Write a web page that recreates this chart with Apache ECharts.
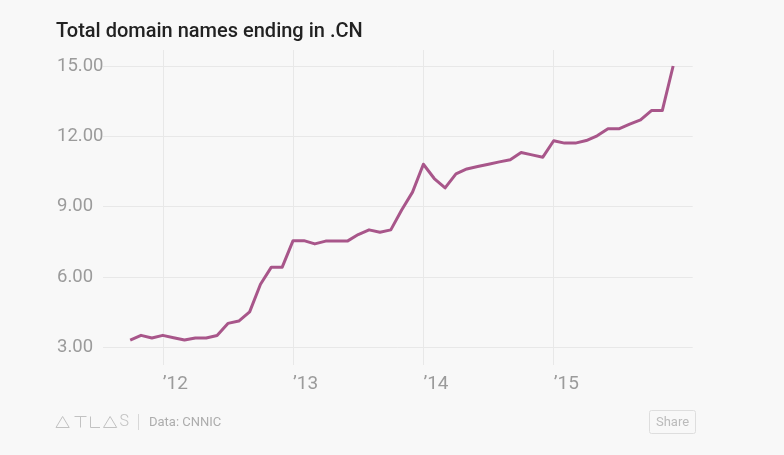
<!DOCTYPE html>
<html><head><meta charset="utf-8">
<script src="https://cdn.jsdelivr.net/npm/echarts@6/dist/echarts.min.js"></script>
<style>html,body{margin:0;padding:0;background:#f8f8f8}#c{width:784px;height:455px}</style>
</head><body><div id="c"></div>
<script>
// ---- data ----
const chartTitle = 'Total domain names ending in .CN';
const sourceText = 'Data: CNNIC';
const months = [
  '2011-10','2011-11','2011-12',
  '2012-01','2012-02','2012-03','2012-04','2012-05','2012-06','2012-07','2012-08','2012-09','2012-10','2012-11','2012-12',
  '2013-01','2013-02','2013-03','2013-04','2013-05','2013-06','2013-07','2013-08','2013-09','2013-10','2013-11','2013-12',
  '2014-01','2014-02','2014-03','2014-04','2014-05','2014-06','2014-07','2014-08','2014-09','2014-10','2014-11','2014-12',
  '2015-01','2015-02','2015-03','2015-04','2015-05','2015-06','2015-07','2015-08','2015-09','2015-10','2015-11','2015-12'
];
const values = [
  3.31, 3.51, 3.40,
  3.51, 3.41, 3.31, 3.40, 3.40, 3.50, 4.02, 4.12, 4.51, 5.69, 6.42, 6.42,
  7.55, 7.55, 7.41, 7.53, 7.53, 7.53, 7.81, 8.01, 7.91, 8.01, 8.86, 9.62,
  10.81, 10.20, 9.80, 10.40, 10.61, 10.71, 10.81, 10.91, 11.00, 11.31, 11.21, 11.11,
  11.81, 11.71, 11.71, 11.82, 12.02, 12.32, 12.32, 12.52, 12.70, 13.10, 13.10, 15.00
];
const padBefore = ['2011-07','2011-08','2011-09'];
const padAfter = ['2016-01'];
const yearTicks = ['2012-01','2013-01','2014-01','2015-01'];
const yMin = 3, yMax = 15, yStep = 3;

// ---- layout ----
const axisMonths = [...padBefore, ...months, ...padAfter];
const FONT = 'Roboto, "Liberation Sans", sans-serif';
const plotTop = 66, plotBottom = 347.3;
const pxPerUnit = (plotBottom - plotTop) / (yMax - yMin);
const outerTop = 50, outerBottom = 365;
const outerMin = yMin - (outerBottom - plotBottom) / pxPerUnit;
const outerMax = yMax + (plotTop - outerTop) / pxPerUnit;
const isYear = (i, v) => yearTicks.indexOf(v) >= 0;

const chart = echarts.init(document.getElementById('c'), null, {renderer: 'canvas'});
chart.setOption({
  backgroundColor: '#f8f8f8',
  animation: false,
  grid: [
    {left: 97.6, width: 586.4, top: outerTop, height: outerBottom - outerTop},
    {left: 103, width: 589.7, top: plotTop, height: plotBottom - plotTop}
  ],
  xAxis: [
    {type: 'category', gridIndex: 0, data: axisMonths, boundaryGap: false,
     axisLine: {show: false}, axisTick: {show: false},
     axisLabel: {interval: isYear, formatter: v => '\u2019' + v.slice(2, 4), align: 'left',
                 color: '#9b9b9b', fontSize: 19, fontFamily: FONT, margin: 10},
     splitLine: {show: true, interval: isYear, lineStyle: {color: '#e8e8e8', width: 1}}},
    {type: 'value', gridIndex: 1, min: 0, max: 1, show: false}
  ],
  yAxis: [
    {type: 'value', gridIndex: 0, min: outerMin, max: outerMax, show: false},
    {type: 'value', gridIndex: 1, min: yMin, max: yMax, interval: yStep,
     axisLine: {show: false}, axisTick: {show: false},
     axisLabel: {formatter: v => v.toFixed(2), align: 'left', margin: 46,
                 color: '#9b9b9b', fontSize: 18.5, fontFamily: FONT},
     splitLine: {show: true, lineStyle: {color: '#e8e8e8', width: 1}}}
  ],
  series: [{
    type: 'line', xAxisIndex: 0, yAxisIndex: 0,
    data: months.map((m, i) => [m, values[i]]),
    showSymbol: false, clip: false,
    lineStyle: {color: '#a8568a', width: 3, join: 'round'},
    itemStyle: {color: '#a8568a'}
  }],
  graphic: [
    {type: 'text', left: 56, top: 22, style: {text: chartTitle, fill: '#222', font: '500 20px ' + FONT}},
    // ATLAS logo
    {type: 'polyline', shape: {points: [[56, 427.5], [62.6, 416.5], [69.2, 427.5], [56, 427.5]]}, style: {stroke: '#c2c2c2', lineWidth: 1, fill: null}},
    {type: 'polyline', shape: {points: [[74.5, 416.5], [86.5, 416.5]]}, style: {stroke: '#c2c2c2', lineWidth: 1}},
    {type: 'polyline', shape: {points: [[80.5, 416.5], [80.5, 427.5]]}, style: {stroke: '#c2c2c2', lineWidth: 1}},
    {type: 'polyline', shape: {points: [[90.5, 416.5], [90.5, 427.5], [100, 427.5]]}, style: {stroke: '#c2c2c2', lineWidth: 1, fill: null}},
    {type: 'polyline', shape: {points: [[103.5, 427.5], [110.1, 416.5], [116.7, 427.5], [103.5, 427.5]]}, style: {stroke: '#c2c2c2', lineWidth: 1, fill: null}},
    {type: 'text', left: 119.5, top: 413.5, style: {text: 'S', fill: '#c2c2c2', font: '300 16px ' + FONT}},
    {type: 'line', shape: {x1: 138.5, y1: 414, x2: 138.5, y2: 430}, style: {stroke: '#d8d8d8', lineWidth: 1}},
    {type: 'text', left: 149, top: 416, style: {text: sourceText, fill: '#adadad', font: '13px ' + FONT}},
    // Share button
    {type: 'rect', shape: {x: 649.5, y: 410.5, width: 46, height: 23, r: 2}, style: {fill: '#f8f8f8', stroke: '#dedede', lineWidth: 1}},
    {type: 'text', x: 672.5, y: 422.5, style: {text: 'Share', fill: '#bbbbbb', font: '13px ' + FONT, align: 'center', verticalAlign: 'middle'}}
  ]
});
</script>
</body></html>
